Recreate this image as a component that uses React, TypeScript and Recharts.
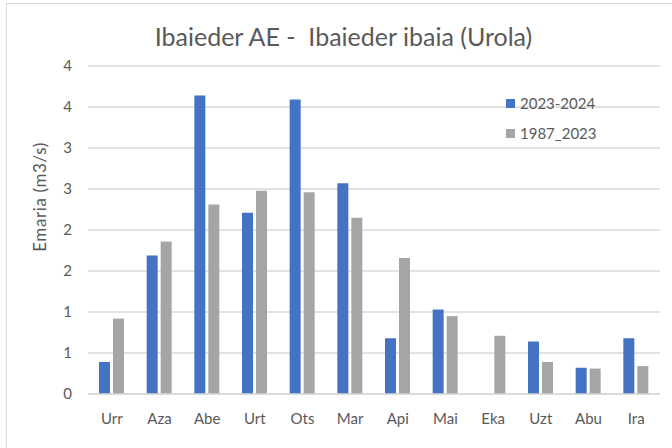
import { Bar, BarChart, CartesianGrid, XAxis, YAxis } from 'recharts'

const months = ['Urr', 'Aza', 'Abe', 'Urt', 'Ots', 'Mar', 'Api', 'Mai', 'Eka', 'Uzt', 'Abu', 'Ira']
const season2324 = [0.39, 1.69, 3.64, 2.21, 3.59, 2.57, 0.68, 1.03, null, 0.64, 0.32, 0.68]
const history8723 = [0.92, 1.86, 2.31, 2.48, 2.46, 2.15, 1.66, 0.95, 0.71, 0.39, 0.31, 0.34]
const yTicks = [0, 0.5, 1, 1.5, 2, 2.5, 3, 3.5, 4]

const seriesNames = ['2023-2024', '1987_2023']
const BLUE = '#4472C4'
const GREY = '#A5A5A5'
const TEXT = '#595959'
const FONT = 'Lato, "Open Sans", sans-serif'

const data = months.map((m, i) => ({
  month: m,
  s1: season2324[i],
  s2: history8723[i],
}))

function YLabel() {
  return (
    <text
      x={39}
      y={197}
      transform="rotate(-90 39 197)"
      textAnchor="middle"
      dominantBaseline="central"
      fill={TEXT}
      fontSize={17}
      letterSpacing={0.6}
      fontFamily={FONT}
    >
      Emaria (m3/s)
    </text>
  )
}

function LegendBox() {
  const colors = [BLUE, GREY]
  return (
    <div style={{ position: 'absolute', left: 506, top: 88, fontFamily: FONT, fontSize: 15, color: TEXT }}>
      {seriesNames.map((name, i) => (
        <div key={name} style={{ display: 'flex', alignItems: 'center', height: 30 }}>
          <span
            style={{ width: 9, height: 9, background: colors[i], marginRight: 5, display: 'inline-block' }}
          />
          <span>{name}</span>
        </div>
      ))}
    </div>
  )
}

export default function App() {
  return (
    <div
      style={{
        position: 'absolute',
        left: 0,
        top: 0,
        width: 672,
        height: 448,
        background: '#fff',
        overflow: 'hidden',
      }}
    >
      <div
        style={{
          position: 'absolute',
          left: 6,
          top: 3,
          width: 700,
          height: 500,
          border: '1.5px solid #D9D9D9',
          boxSizing: 'border-box',
        }}
      />
      <div
        style={{
          position: 'absolute',
          left: 0,
          width: 687,
          top: 21,
          textAlign: 'center',
          fontFamily: FONT,
          fontSize: 25,
          color: TEXT,
          whiteSpace: 'pre',
        }}
      >
        {'Ibaieder AE -  Ibaieder ibaia (Urola)'}
      </div>
      <div style={{ position: 'absolute', left: 0, top: 0 }}>
        <BarChart
          width={672}
          height={448}
          data={data}
          margin={{ top: 66, right: 12, bottom: 0, left: 0 }}
          barGap={3}
        >
          <CartesianGrid vertical={false} stroke="#D9D9D9" strokeWidth={1.5} />
          <XAxis
            dataKey="month"
            axisLine={{ stroke: '#D9D9D9', strokeWidth: 1.5 }}
            tickLine={false}
            tickSize={0}
            tickMargin={19}
            tick={{ fill: TEXT, fontSize: 15, fontFamily: FONT }}
            height={54}
          />
          <YAxis
            width={88}
            domain={[0, 4]}
            ticks={yTicks}
            interval={0}
            axisLine={false}
            tickLine={false}
            tickSize={0}
            tickMargin={16}
            tickFormatter={(v: number) => String(Math.round(v))}
            tick={{ fill: TEXT, fontSize: 15, fontFamily: FONT }}
            label={<YLabel />}
          />
          <Bar dataKey="s1" name={seriesNames[0]} fill={BLUE} barSize={11} isAnimationActive={false} />
          <Bar dataKey="s2" name={seriesNames[1]} fill={GREY} barSize={11} isAnimationActive={false} />
        </BarChart>
      </div>
      <LegendBox />
    </div>
  )
}
